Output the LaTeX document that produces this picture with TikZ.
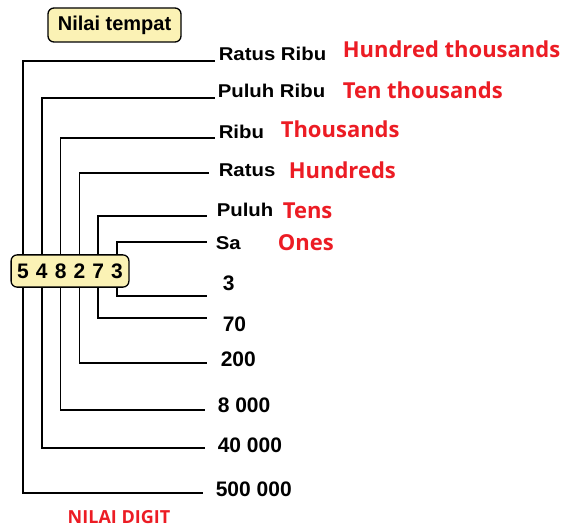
\documentclass[tikz,border=0pt]{standalone}
\usepackage{fontspec}
\setmainfont{Liberation Sans}
\newfontfamily\redfont{Open Sans}
\usetikzlibrary{matrix,positioning}
\definecolor{boxyellow}{HTML}{FBF2B5}
\definecolor{labelred}{HTML}{EC1C24}
\newcommand{\wide}[1]{\scalebox{1.1}[1]{#1}}

\begin{document}
\begin{tikzpicture}[x=1pt, y=-1pt, line width=1.6pt,
      place/.style={anchor=base west, inner sep=0pt,
          font=\bfseries\fontsize{18.5}{20}\selectfont},
      value/.style={anchor=base west, inner sep=0pt,
          font=\bfseries\fontsize{21}{22}\selectfont},
      english/.style={anchor=base west, inner sep=0pt, text=labelred,
          font=\redfont\bfseries\fontsize{22}{24}\selectfont},
      yellowbox/.style={draw, fill=boxyellow, rounded corners=6pt, line width=1.3pt}]
      \useasboundingbox (0,0) rectangle (562,527);

      \node[yellowbox, minimum width=133pt, minimum height=34pt,
          font=\bfseries\fontsize{20}{22}\selectfont] (title) at (114.5,25)
          {Nilai tempat};

      \matrix(digits)[matrix of nodes, yellowbox, inner sep=2.5pt, column sep=0pt,
          nodes={minimum width=18.8pt, minimum height=27pt, inner sep=0pt,
              font=\bfseries\fontsize{21}{22}\selectfont}] at (70,271)
      {
          5 & 4 & 8 & 2 & 7 & 3 \\
      };

      % ends of the place lines
      \coordinate (top1) at (215,61);
      \coordinate (top2) at (215,98);
      \coordinate (top3) at (215,138);
      \coordinate (top4) at (209,173);
      \coordinate (top5) at (207,216);
      \coordinate (top6) at (207,242);
      % ends of the value lines
      \coordinate (bot6) at (207,296);
      \coordinate (bot5) at (207,318);
      \coordinate (bot4) at (207,363);
      \coordinate (bot3) at (205,410);
      \coordinate (bot2) at (205,448);
      \coordinate (bot1) at (203,493);

      \draw (digits-1-1 |- digits.north) |- (top1);
      \draw (digits-1-2 |- digits.north) |- (top2);
      \draw (digits-1-3 |- digits.north) |- (top3);
      \draw (digits-1-4 |- digits.north) |- (top4);
      \draw (digits-1-5 |- digits.north) |- (top5);
      \draw (digits-1-6 |- digits.north) |- (top6);

      \draw (digits-1-1 |- digits.south) |- (bot1);
      \draw (digits-1-2 |- digits.south) |- (bot2);
      \draw (digits-1-3 |- digits.south) |- (bot3);
      \draw (digits-1-4 |- digits.south) |- (bot4);
      \draw (digits-1-5 |- digits.south) |- (bot5);
      \draw (digits-1-6 |- digits.south) |- (bot6);

      % place names
      \node[place] (ratusribu) at (218,60) {\wide{Ratus Ribu}};
      \node[place] (puluhribu) at (217,97) {\wide{Puluh Ribu}};
      \node[place] (ribu) at (218,138) {\wide{Ribu}};
      \node[place] (ratus) at (218,176) {\wide{Ratus}};
      \node[place] (puluh) at (216,216) {\wide{Puluh}};
      \node[place] (sa) at (215,249) {\wide{Sa}};

      \node[english] (hundredthousands) at (342,58) {Hundred thousands};
      \node[english] (tenthousands) at (342,98) {Ten thousands};
      \node[english] (thousands) at (280,137) {Thousands};
      \node[english] (hundreds) at (288,178) {Hundreds};
      \node[english] (tens) at (282,218) {Tens};
      \node[english] (ones) at (277,250) {Ones};

      % digit values
      \node[value] (v3) at (222,290) {3};
      \node[value] (v70) at (222,331) {70};
      \node[value] (v200) at (220,366) {200};
      \node[value] (v8000) at (217,412) {8 000};
      \node[value] (v40000) at (217,452) {40 000};
      \node[value] (v500000) at (215,496) {500 000};

      \node[anchor=base, inner sep=0pt, text=labelred,
          font=\redfont\bfseries\fontsize{18}{20}\selectfont] (nilaidigit) at (119,523) {NILAI DIGIT};
\end{tikzpicture}
\end{document}
